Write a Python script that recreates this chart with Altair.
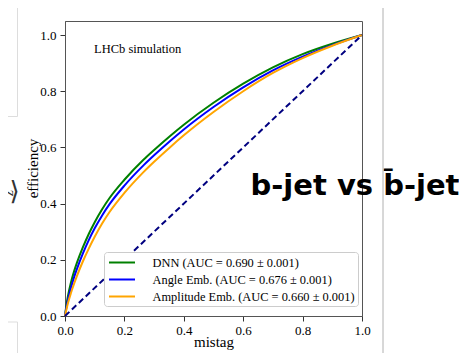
import altair as alt
import pandas as pd

# ---- data ----
mistag = [0, 0.005, 0.01, 0.02, 0.03, 0.04, 0.06, 0.08, 0.10, 0.125, 0.15, 0.2, 0.265, 0.3, 0.354, 0.4,
          0.5, 0.6, 0.7, 0.8, 0.9, 1.0]
eff_dnn = [0, 0.04, 0.071, 0.119, 0.157, 0.189, 0.244, 0.292, 0.334, 0.38, 0.42, 0.485, 0.557, 0.591,
           0.641, 0.681, 0.759, 0.827, 0.885, 0.932, 0.969, 1.0]
eff_angle = [0, 0.032, 0.058, 0.1, 0.136, 0.167, 0.222, 0.27, 0.312, 0.358, 0.398, 0.464, 0.537, 0.572,
             0.623, 0.664, 0.744, 0.814, 0.874, 0.923, 0.964, 1.0]
eff_ampl = [0, 0.024, 0.046, 0.082, 0.113, 0.142, 0.194, 0.24, 0.282, 0.329, 0.37, 0.438, 0.513, 0.549,
            0.601, 0.643, 0.726, 0.8, 0.865, 0.918, 0.962, 1.0]
labels = ["DNN (AUC = 0.690 \u00b1 0.001)",
          "Angle Emb. (AUC = 0.676 \u00b1 0.001)",
          "Amplitude Emb. (AUC = 0.660 \u00b1 0.001)"]
colors = ["green", "blue", "orange"]
diag_x = [0, 1]
diag_y = [0, 1]
ticks = [0, 0.2, 0.4, 0.6, 0.8, 1.0]

rows = []
for lab, ys in zip(labels, [eff_dnn, eff_angle, eff_ampl]):
    for m, e in zip(mistag, ys):
        rows.append({"mistag": m, "eff": e, "model": lab})
df = pd.DataFrame(rows)
ddf = pd.DataFrame({"mistag": diag_x, "eff": diag_y})
tdf = pd.DataFrame({"mistag": [0.098], "eff": [0.951], "t": ["LHCb simulation"]})
one = alt.InlineData(values=[{}])

SERIF = "Liberation Serif"
xs = alt.Scale(domain=[0, 1], nice=False)
ys_ = alt.Scale(domain=[0, 1.05], nice=False)

xaxis = alt.Axis(values=ticks, format=".1f", title="mistag", grid=False,
                 labelFont=SERIF, labelFontSize=13, labelColor="black", labelFlush=False,
                 tickSize=5, labelPadding=3, tickColor="#333", domainColor="#555",
                 titleFont=SERIF, titleFontSize=15, titleFontWeight="normal",
                 titleColor="black", titleBaseline="middle", titleY=25)
yaxis = alt.Axis(values=ticks, format=".1f", title="efficiency", grid=False,
                 labelFont=SERIF, labelFontSize=13, labelColor="black",
                 tickSize=5, labelPadding=4, tickColor="#333", domainColor="#555",
                 titleFont=SERIF, titleFontSize=15, titleFontWeight="normal",
                 titleColor="black", titleAngle=270, titleBaseline="middle",
                 titleX=-33, titleY=147)

lines = alt.Chart(df).mark_line(strokeWidth=2, interpolate="monotone").encode(
    x=alt.X("mistag:Q", scale=xs, axis=xaxis),
    y=alt.Y("eff:Q", scale=ys_, axis=yaxis),
    color=alt.Color("model:N",
                    scale=alt.Scale(domain=labels, range=colors),
                    sort=labels,
                    legend=alt.Legend(orient="none", legendX=39, legendY=231, title=None,
                                      symbolType="M-2,0L2,0", symbolSize=169, symbolStrokeWidth=2,
                                      symbolOffset=7.5,
                                      labelFont=SERIF, labelFontSize=12.4, labelColor="black",
                                      labelOffset=23, padding=3, rowPadding=3, labelLimit=0,
                                      strokeColor="#cccccc", fillColor="white", cornerRadius=3)),
    detail="model:N",
)

diag = alt.Chart(ddf).mark_line(color="navy", strokeWidth=2, strokeDash=[6, 3.5]).encode(
    x=alt.X("mistag:Q", scale=xs), y=alt.Y("eff:Q", scale=ys_))

lhcb = alt.Chart(tdf).mark_text(font=SERIF, fontSize=12.5, align="left", baseline="middle",
                                color="black").encode(
    x=alt.X("mistag:Q", scale=xs), y=alt.Y("eff:Q", scale=ys_), text="t:N")

# slide overlay elements (outside the data space)
big = alt.Chart(one).mark_text(font="DejaVu Sans", fontWeight="bold", fontSize=29,
                               align="center", baseline="alphabetic", color="black").encode(
    x=alt.value(290), y=alt.value(174), text=alt.value("b-jet vs b\u0304-jet"))
vline = alt.Chart(one).mark_rule(color="#b0b0b0", strokeWidth=1).encode(
    x=alt.value(318), y=alt.value(-13), y2=alt.value(335))
box1v = alt.Chart(one).mark_rule(color="#dddddd", strokeWidth=1).encode(
    x=alt.value(-47.5), y=alt.value(-13), y2=alt.value(95.5))
box1h = alt.Chart(one).mark_rule(color="#dddddd", strokeWidth=1).encode(
    x=alt.value(-60), x2=alt.value(-47.5), y=alt.value(95.5))
box2h = alt.Chart(one).mark_rule(color="#dddddd", strokeWidth=1).encode(
    x=alt.value(-60), x2=alt.value(-47.5), y=alt.value(301))
box2v = alt.Chart(one).mark_rule(color="#dddddd", strokeWidth=1).encode(
    x=alt.value(-47.5), y=alt.value(301), y2=alt.value(335))
bracket = alt.Chart(one).mark_text(font="DejaVu Serif", fontSize=26, align="center",
                                   baseline="middle", color="#333").encode(
    x=alt.value(-50.5), y=alt.value(171), text=alt.value("\u27e9"))
zlet = alt.Chart(one).mark_text(font=SERIF, fontSize=16, fontStyle="italic", angle=270,
                                align="center", baseline="middle", color="#333").encode(
    x=alt.value(-57), y=alt.value(172), text=alt.value("z"))

chart = alt.layer(lines, diag, lhcb, big, vline, box1v, box1h, box2h, box2v, bracket, zlet).properties(
    width=297, height=295,
    autosize=alt.AutoSizeParams(type="none"),
    padding={"left": 57, "top": 13, "right": 97, "bottom": 37},
).configure_view(stroke="#555", strokeWidth=1)

chart.save("out.html", embed_options={"renderer": "svg", "actions": False})
